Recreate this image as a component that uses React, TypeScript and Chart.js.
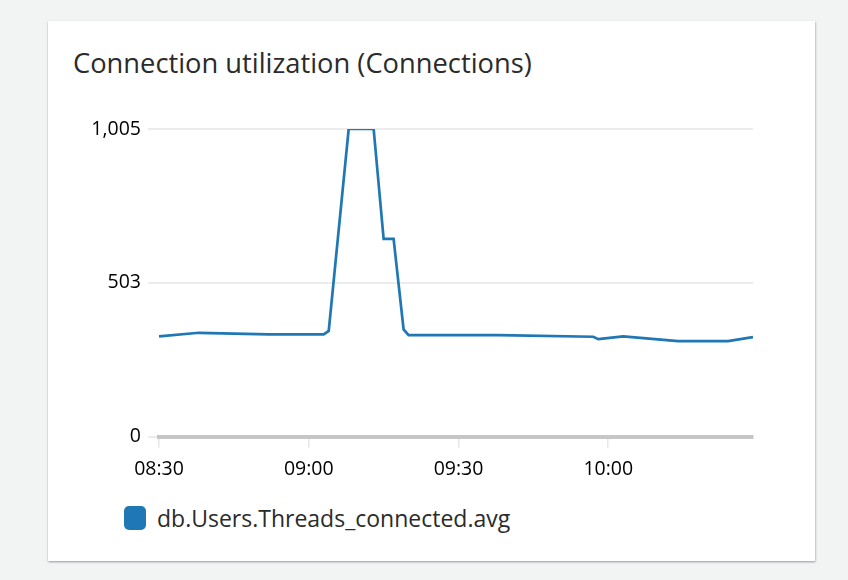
import React, { useEffect, useRef } from "react";
import { Chart, registerables } from "chart.js";

Chart.register(...registerables);

const chartTitle = "Connection utilization (Connections)";
const seriesLabel = "db.Users.Threads_connected.avg";
const seriesColor = "#1f77b4";

const times = [
  "08:30", "08:38", "08:52", "09:03", "09:04", "09:08", "09:13", "09:15", "09:17",
  "09:19", "09:20", "09:38", "09:57", "09:58", "10:03", "10:14", "10:24", "10:29",
];
const values = [
  327, 339, 334, 334, 345, 1005, 1005, 646, 646,
  350, 331, 331, 326, 318, 327, 312, 312, 325,
];
const xTickLabels = ["08:30", "09:00", "09:30", "10:00"];
const yTickValues = [0, 503, 1005];

const START = "08:30";
const toMin = (t: string) => {
  const [h, m] = t.split(":").map(Number);
  const [sh, sm] = START.split(":").map(Number);
  return h * 60 + m - (sh * 60 + sm);
};
const fromMin = (v: number) => {
  const [sh, sm] = START.split(":").map(Number);
  const total = sh * 60 + sm + Math.round(v);
  const h = Math.floor(total / 60);
  const m = total % 60;
  return `${String(h).padStart(2, "0")}:${String(m).padStart(2, "0")}`;
};

const FONT = "'Open Sans', 'Noto Sans', sans-serif";

export default function App() {
  const ref = useRef<HTMLCanvasElement | null>(null);

  useEffect(() => {
    if (!ref.current) return;
    const points = times.map((t, i) => ({ x: toMin(t), y: values[i] }));
    const xTicks = xTickLabels.map(toMin);
    const chart = new Chart(ref.current, {
      type: "line",
      data: {
        datasets: [
          {
            label: seriesLabel,
            data: points,
            borderColor: seriesColor,
            backgroundColor: seriesColor,
            borderWidth: 2.7,
            pointRadius: 0,
            tension: 0,
            fill: false,
          },
        ],
      },
      options: {
        animation: false,
        responsive: false,
        maintainAspectRatio: false,
        layout: { padding: { top: 29, right: 17, left: 0, bottom: 0 } },
        plugins: {
          legend: { display: false },
          title: { display: false },
          tooltip: { enabled: false },
        },
        scales: {
          x: {
            type: "linear",
            min: toMin(times[0]),
            max: toMin(times[times.length - 1]),
            afterBuildTicks: (axis: any) => {
              axis.ticks = xTicks.map((v) => ({ value: v }));
            },
            afterFit: (axis: any) => {
              axis.height = 43.5;
            },
            grid: {
              drawOnChartArea: false,
              drawTicks: true,
              tickLength: 11,
              color: "#e6e6e6",
              lineWidth: 1.5,
            },
            border: { display: true, color: "#c6c6c6", width: 4, z: 1 },
            ticks: {
              autoSkip: false,
              maxRotation: 0,
              padding: 10,
              color: "#000000",
              font: { family: FONT, size: 19.5 },
              callback: (v: any) => fromMin(Number(v)),
            },
          },
          y: {
            type: "linear",
            min: 0,
            max: yTickValues[yTickValues.length - 1],
            afterBuildTicks: (axis: any) => {
              axis.ticks = yTickValues.map((v) => ({ value: v }));
            },
            afterFit: (axis: any) => {
              axis.width = 99;
            },
            grid: {
              drawTicks: true,
              tickLength: 11,
              color: "#ececec",
              lineWidth: 2,
            },
            border: { display: false },
            ticks: {
              padding: 7,
              color: "#000000",
              font: { family: FONT, size: 19.5 },
              callback: (v: any) => Number(v).toLocaleString("en-US"),
            },
          },
        },
      },
    });
    return () => chart.destroy();
  }, []);

  return (
    <div style={{ position: "fixed", inset: 0, background: "#f2f3f3", fontFamily: FONT }}>
      <div
        style={{
          position: "absolute",
          left: 48,
          top: 21,
          width: 767,
          height: 540,
          background: "#ffffff",
          boxShadow: "0 1px 2px rgba(0,28,36,0.3), 1px 1px 2px rgba(0,28,36,0.12)",
        }}
      >
        <div
          style={{
            position: "absolute",
            left: 25,
            top: 26,
            fontSize: 27.3,
            lineHeight: "32px",
            color: "#2b2b2b",
            whiteSpace: "nowrap",
          }}
        >
          {chartTitle}
        </div>
        <canvas
          ref={ref}
          width={710}
          height={380}
          style={{ position: "absolute", left: 12, top: 79, width: 710, height: 380 }}
        />
        <div
          style={{
            position: "absolute",
            left: 76,
            top: 481,
            height: 32,
            display: "flex",
            alignItems: "center",
            whiteSpace: "nowrap",
          }}
        >
          <span
            style={{
              display: "inline-block",
              width: 22,
              height: 24,
              borderRadius: 5,
              background: seriesColor,
              marginRight: 11,
            }}
          />
          <span style={{ fontSize: 23, color: "#2b2b2b", lineHeight: "32px" }}>{seriesLabel}</span>
        </div>
      </div>
    </div>
  );
}
